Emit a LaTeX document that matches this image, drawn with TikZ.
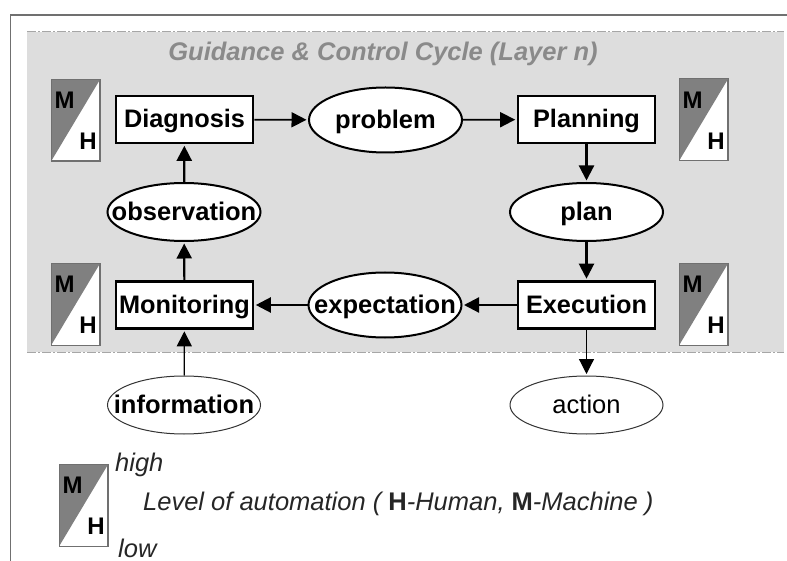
\documentclass[tikz,border=0pt]{standalone}
\usepackage{fontspec}
\setmainfont{Liberation Sans}
\usetikzlibrary{shapes.geometric,arrows.meta}
\definecolor{panelgray}{HTML}{DDDDDD}
\definecolor{mhgray}{HTML}{808080}
\definecolor{titlegray}{HTML}{8A8A8A}
\definecolor{framegray}{HTML}{707070}
\tikzset{
  x=1pt,y=-1pt,
  boxnode/.style={draw=black,fill=white,line width=2.6pt,minimum width=137pt,minimum height=47pt,inner sep=0pt,text height=17pt,text depth=0pt,font=\fontsize{25.3}{28}\selectfont\bfseries},
  ovalnode/.style={ellipse,draw=black,fill=white,line width=2pt,minimum width=153pt,minimum height=58pt,inner sep=0pt,text height=17pt,text depth=0pt,font=\fontsize{25.5}{28}\selectfont\bfseries},
  thinoval/.style={ovalnode,line width=1pt,draw=black!80},
  conn/.style={draw=black,line width=2.2pt,-{Triangle[length=15pt,width=15pt]},shorten >=1.5pt},
  thinconn/.style={conn,line width=1.2pt},
  mhbox/.style={draw=framegray,line width=1pt,fill=white,minimum width=48pt,minimum height=81pt,inner sep=0pt},
  mhletter/.style={font=\fontsize{24}{26}\selectfont\bfseries,inner sep=0pt},
  notetext/.style={font=\fontsize{25.5}{28}\selectfont\itshape,inner sep=0pt,text=black!85},
  band/.style={draw=black!35,line width=1pt,dash pattern=on 9pt off 2pt on 2pt off 2pt},
}
\newcommand{\mhflag}[3]{%
  \node[mhbox] (#1) at (#2,#3) {};
  \fill[mhgray] (#1.south west) -- (#1.north west) -- (#1.north east) -- cycle;
  \draw[framegray,line width=1pt] (#1.south west) rectangle (#1.north east);
  \node[mhletter] (#1m) at (#2-11,#3-20) {M};
  \node[mhletter] (#1h) at (#2+12.5,#3+21) {H};
}
\begin{document}
\begin{tikzpicture}
\useasboundingbox (0,0) rectangle (787,561);
\fill[white] (0,0) rectangle (787,561);
\draw[framegray,line width=1.2pt] (10.5,561) -- (10.5,15) -- (787,15);
\fill[panelgray] (27,32) rectangle (784,352);
\draw[band] (27,32) -- (784,32);
\draw[band] (27,352) -- (784,352);
\node[font=\fontsize{25.5}{28}\selectfont\bfseries\itshape,text=titlegray,inner sep=0pt,anchor=base] (title) at (383,60.5) {Guidance \& Control Cycle (Layer n)};

\mhflag{mhone}{75.5}{120.5}
\mhflag{mhtwo}{703.5}{120}
\mhflag{mhthree}{75.5}{304.5}
\mhflag{mhfour}{703.5}{304.5}

\node[boxnode] (diag) at (184.5,119.5) {Diagnosis};
\node[boxnode] (plann) at (586.5,119.5) {Planning};
\node[boxnode] (moni) at (184.5,305) {Monitoring};
\node[boxnode] (exec) at (586.5,305) {Execution};

\node[ovalnode,minimum height=65pt] (prob) at (385.5,120) {\makebox[0pt][c]{problem}};
\node[ovalnode] (obs) at (184,212) {\makebox[0pt][c]{observation}};
\node[ovalnode] (planv) at (586.5,212) {\makebox[0pt][c]{plan}};
\node[ovalnode,minimum height=65pt] (expe) at (385,305) {\makebox[0pt][c]{expectation}};
\node[thinoval] (info) at (184,405) {\makebox[0pt][c]{information}};
\node[thinoval,font=\fontsize{25.5}{28}\selectfont] (act) at (586.5,405) {\makebox[0pt][c]{action}};

\draw[conn,line width=1.7pt] (diag) -- (prob);
\draw[conn,line width=1.7pt] (prob) -- (plann);
\draw[conn] (plann) -- (planv);
\draw[conn] (planv) -- (exec);
\draw[conn] (exec) -- (expe);
\draw[conn] (expe) -- (moni);
\draw[conn] (moni) -- (obs);
\draw[conn] (obs) -- (diag);
\draw[thinconn] (info) -- (moni);
\draw[thinconn] (exec) -- (act);

\mhflag{mhleg}{83.5}{505.5}
\node[notetext,anchor=base west] (high) at (115,471) {high};
\node[notetext,anchor=base west] (low) at (118,557) {low};
\node[notetext,anchor=base west] (lev) at (143,510) {Level of automation ( {\upshape\bfseries H}-Human, {\upshape\bfseries M}-Machine )};
\end{tikzpicture}
\end{document}
